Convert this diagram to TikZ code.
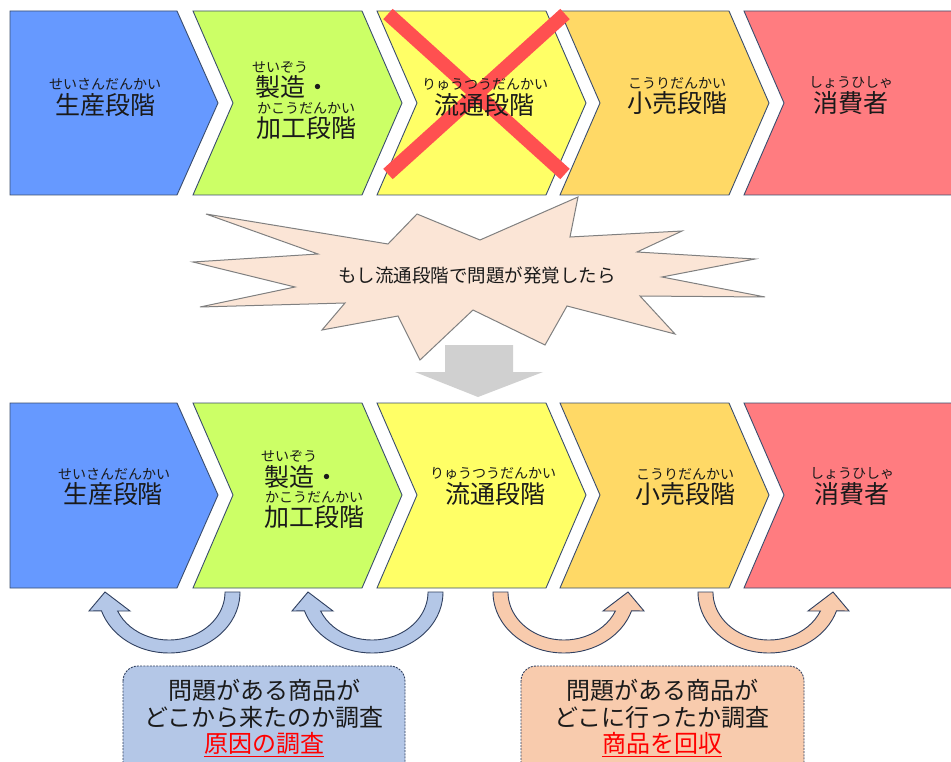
\documentclass[tikz,border=0pt]{standalone}
\usepackage{fontspec}
\setmainfont{Noto Sans CJK JP}
\definecolor{cblue}{HTML}{6699FF}
\definecolor{cgreen}{HTML}{CCFF66}
\definecolor{cyellow}{HTML}{FFFF66}
\definecolor{corange}{HTML}{FFD966}
\definecolor{cred}{HTML}{FF7C80}
\definecolor{chevline}{HTML}{3A4D6E}
\definecolor{xred}{HTML}{FF5050}
\definecolor{burst}{HTML}{FBE5D6}
\definecolor{burstline}{HTML}{808080}
\definecolor{arrgray}{HTML}{D0D0D0}
\definecolor{lblue}{HTML}{B4C7E7}
\definecolor{lorange}{HTML}{F8CBAD}
\definecolor{navy}{HTML}{2F3F5F}
\definecolor{txt}{HTML}{1A1A1A}
\newcommand\uarrowshape[3]{%
  \begin{scope}[shift={(#1,592)}, xscale=#2]
    \draw[uarrline, fill=#3] (-71,0) arc[start angle=180,end angle=18,x radius=71,y radius=61]
      -- (80,19) -- (64,0) -- (39,19) -- (51.4,19)
      arc[start angle=23.3,end angle=180,x radius=56,y radius=48] -- cycle;
  \end{scope}}
\begin{document}
\begin{tikzpicture}[x=1pt,y=-1pt,
  chev/.style={draw=chevline, line width=0.9pt},
  ruby/.style={font=\fontsize{14}{16}\selectfont, inner sep=0, text=txt},
  mainlbl/.style={font=\fontsize{25}{28}\selectfont, inner sep=0, text=txt},
  xline/.style={line width=14pt, draw=xred},
  uarrline/.style={draw=navy, line width=0.9pt},
  boxline/.style={draw=navy, line width=0.9pt, dash pattern=on 2pt off 1.2pt, rounded corners=15pt},
  boxtxt/.style={font=\fontsize{24}{26}\selectfont, inner sep=0, text=txt},
  redtxt/.style={font=\fontsize{24}{26}\selectfont, inner sep=0, text=red}]
\useasboundingbox (0,0) rectangle (951,762);
\clip (0,0) rectangle (951,762);
\fill[white] (0,0) rectangle (951,762);

% ---------- top row ----------
\draw[chev, fill=cblue] (10,11) -- (177,11) -- (218,103) -- (177,195) -- (10,195) -- cycle;
\draw[chev, fill=cgreen] (193,11) -- (362,11) -- (402,103) -- (362,195) -- (193,195) -- (233,103) -- cycle;
\draw[chev, fill=cyellow] (377,11) -- (546,11) -- (586,103) -- (546,195) -- (377,195) -- (417,103) -- cycle;
\draw[chev, fill=corange] (560,11) -- (729,11) -- (769,103) -- (729,195) -- (560,195) -- (600,103) -- cycle;
\draw[chev, fill=cred] (744,11) -- (970,11) -- (970,195) -- (744,195) -- (784,103) -- cycle;

\draw[xline] (388,14) -- (565,174);
\draw[xline] (565,14) -- (388,174);

\node[ruby] (r1t) at (105,84) {せいさんだんかい};
\node[mainlbl] (m1t) at (105,105) {生産段階};
\node[ruby, anchor=west] (r2at) at (252,67) {せいぞう};
\node[mainlbl, anchor=west] (m2at) at (255,87) {製造・};
\node[ruby, anchor=west] (r2bt) at (257,108) {かこうだんかい};
\node[mainlbl, anchor=west] (m2bt) at (256,128) {加工段階};
\node[ruby] (r3t) at (485,85) {りゅうつうだんかい};
\node[mainlbl] (m3t) at (484,105) {流通段階};
\node[ruby] (r4t) at (677,83) {こうりだんかい};
\node[mainlbl] (m4t) at (677,103) {小売段階};
\node[ruby] (r5t) at (851,83) {しょうひしゃ};
\node[mainlbl] (m5t) at (851,103) {消費者};

% ---------- burst ----------
\draw[draw=burstline, line width=1pt, fill=burst]
  (193,262) -- (318,254) -- (206,214) -- (388,244) -- (417,214) -- (480,240) --
  (578,197) -- (570,237) -- (682,231) -- (637,252) -- (755,259) -- (662,277) --
  (765,297) -- (640,296) -- (675,334) -- (567,306) -- (545,345) -- (473,310) --
  (420,360) -- (398,316) -- (322,330) -- (345,303) -- (200,307) -- (295,287) -- cycle;
\node[font=\fontsize{18.5}{20}\selectfont, inner sep=0, text=txt] (bursttxt) at (477,275) {もし流通段階で問題が発覚したら};

% ---------- gray arrow ----------
\fill[arrgray] (445,345) -- (513,345) -- (513,372) -- (543,372) -- (478,397) -- (415,372) -- (445,372) -- cycle;

% ---------- bottom row ----------
\draw[chev, fill=cblue] (10,403) -- (177,403) -- (218,495) -- (177,588) -- (10,588) -- cycle;
\draw[chev, fill=cgreen] (193,403) -- (362,403) -- (402,495) -- (362,588) -- (193,588) -- (233,495) -- cycle;
\draw[chev, fill=cyellow] (377,403) -- (546,403) -- (586,495) -- (546,588) -- (377,588) -- (417,495) -- cycle;
\draw[chev, fill=corange] (560,403) -- (729,403) -- (769,495) -- (729,588) -- (560,588) -- (600,495) -- cycle;
\draw[chev, fill=cred] (744,403) -- (970,403) -- (970,588) -- (744,588) -- (784,495) -- cycle;

\node[ruby] (r1b) at (114,474) {せいさんだんかい};
\node[mainlbl] (m1b) at (113,494) {生産段階};
\node[ruby, anchor=west] (r2ab) at (261,456) {せいぞう};
\node[mainlbl, anchor=west] (m2ab) at (264,477) {製造・};
\node[ruby, anchor=west] (r2bb) at (265,497) {かこうだんかい};
\node[mainlbl, anchor=west] (m2bb) at (264,517) {加工段階};
\node[ruby] (r3b) at (493,474) {りゅうつうだんかい};
\node[mainlbl] (m3b) at (495,494) {流通段階};
\node[ruby] (r4b) at (685,474) {こうりだんかい};
\node[mainlbl] (m4b) at (685,494) {小売段階};
\node[ruby] (r5b) at (852,474) {しょうひしゃ};
\node[mainlbl] (m5b) at (852,494) {消費者};

% ---------- curved arrows ----------
\uarrowshape{169}{-1}{lblue}
\uarrowshape{372}{-1}{lblue}
\uarrowshape{564}{1}{lorange}
\uarrowshape{769}{1}{lorange}

% ---------- boxes ----------
\draw[boxline, fill=lblue] (123,666) rectangle (405,790);
\draw[boxline, fill=lorange] (521,666) rectangle (804,790);

\node[boxtxt] (b1l1) at (264,690) {問題がある商品が};
\node[boxtxt] (b1l2) at (264,717) {どこから来たのか調査};
\node[redtxt] (b1l3) at (264,743) {原因の調査};
\draw[red, line width=1.2pt] ([yshift=-2pt]b1l3.south west) -- ([yshift=-2pt]b1l3.south east);

\node[boxtxt] (b2l1) at (662,690) {問題がある商品が};
\node[boxtxt] (b2l2) at (662,717) {どこに行ったか調査};
\node[redtxt] (b2l3) at (662,743) {商品を回収};
\draw[red, line width=1.2pt] ([yshift=-2pt]b2l3.south west) -- ([yshift=-2pt]b2l3.south east);
\end{tikzpicture}
\end{document}
